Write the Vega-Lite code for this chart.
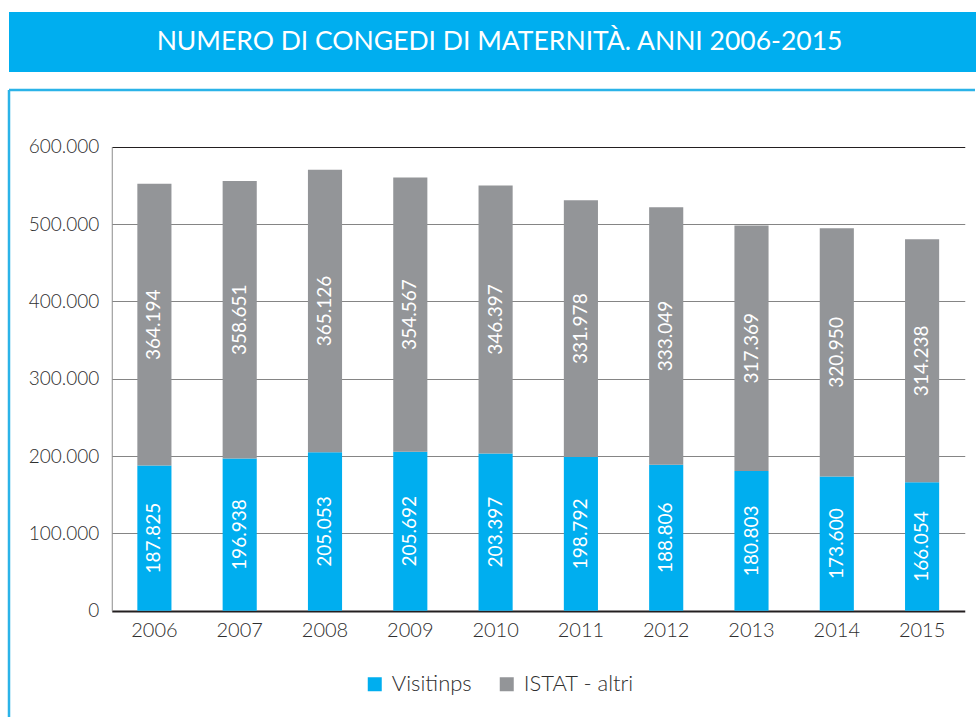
{
  "$schema": "https://vega.github.io/schema/vega-lite/v6.json",
  "background": "white",
  "padding": {"left": 7, "top": 12, "right": 0, "bottom": 0},
  "spacing": 16,
  "config": {
    "font": "Lato",
    "locale": {"number": {"decimal": ",", "thousands": ".", "grouping": [3], "currency": ["€", ""]}},
    "view": {"stroke": null}
  },
  "datasets": {
    "congedi": [
      {"anno": "2006", "serie": "Visitinps", "valore": 187825},
      {"anno": "2007", "serie": "Visitinps", "valore": 196938},
      {"anno": "2008", "serie": "Visitinps", "valore": 205053},
      {"anno": "2009", "serie": "Visitinps", "valore": 205692},
      {"anno": "2010", "serie": "Visitinps", "valore": 203397},
      {"anno": "2011", "serie": "Visitinps", "valore": 198792},
      {"anno": "2012", "serie": "Visitinps", "valore": 188806},
      {"anno": "2013", "serie": "Visitinps", "valore": 180803},
      {"anno": "2014", "serie": "Visitinps", "valore": 173600},
      {"anno": "2015", "serie": "Visitinps", "valore": 166054},
      {"anno": "2006", "serie": "ISTAT - altri", "valore": 364194},
      {"anno": "2007", "serie": "ISTAT - altri", "valore": 358651},
      {"anno": "2008", "serie": "ISTAT - altri", "valore": 365126},
      {"anno": "2009", "serie": "ISTAT - altri", "valore": 354567},
      {"anno": "2010", "serie": "ISTAT - altri", "valore": 346397},
      {"anno": "2011", "serie": "ISTAT - altri", "valore": 331978},
      {"anno": "2012", "serie": "ISTAT - altri", "valore": 333049},
      {"anno": "2013", "serie": "ISTAT - altri", "valore": 317369},
      {"anno": "2014", "serie": "ISTAT - altri", "valore": 320950},
      {"anno": "2015", "serie": "ISTAT - altri", "valore": 314238}
    ]
  },
  "vconcat": [
    {
      "width": 967,
      "height": 60,
      "view": {"fill": "#00aeef", "stroke": null},
      "data": {"values": [{"titolo": "NUMERO DI CONGEDI DI MATERNITÀ. ANNI 2006-2015"}]},
      "mark": {"type": "text", "color": "white", "fontSize": 26.5, "font": "Lato", "dx": 7, "align": "center", "baseline": "middle"},
      "encoding": {"text": {"field": "titolo", "type": "nominal"}}
    },
    {
      "width": 966,
      "height": 627,
      "view": {"stroke": "#2bb3e8", "strokeWidth": 2.5, "strokeDash": [966, 1593, 627, 0]},
      "data": {"name": "congedi"},
      "encoding": {
        "x": {
          "field": "anno",
          "type": "ordinal",
          "scale": {"range": [102.75, 955.75], "paddingInner": 0.6, "paddingOuter": 0.3},
          "axis": {
            "title": null,
            "orient": "bottom",
            "offset": -106.25,
            "domain": false,
            "ticks": false,
            "labelAngle": 0,
            "labelFont": "Lato",
            "labelFontWeight": 300,
            "labelFontSize": 20,
            "labelColor": "#2e2e2e",
            "labelPadding": 10
          }
        }
      },
      "layer": [
        {
          "mark": {"type": "bar"},
          "encoding": {
            "y": {
              "field": "valore",
              "type": "quantitative",
              "stack": "zero",
              "title": null,
              "scale": {"domain": [0, 600000], "range": [520.75, 56.75], "nice": false, "zero": true},
              "axis": {
                "title": null,
                "offset": -102.75,
                "values": [0, 100000, 200000, 300000, 400000, 500000, 600000],
                "format": ",d",
                "domainColor": "#8c8c8c",
                "domainWidth": 1,
                "ticks": false,
                "labelFont": "Lato",
                "labelFontWeight": 300,
                "labelFontSize": 19,
                "labelColor": "#2e2e2e",
                "labelPadding": 13,
                "grid": true,
                "gridColor": {"condition": {"test": "datum.value === 600000 || datum.value === 0", "value": "#231f20"}, "value": "#858585"},
                "gridWidth": {"condition": {"test": "datum.value === 0", "value": 2}, "value": 1.2}
              }
            },
            "color": {
              "field": "serie",
              "type": "nominal",
              "scale": {"domain": ["Visitinps", "ISTAT - altri"], "range": ["#00aeef", "#939598"]},
              "legend": {
                "orient": "none",
                "legendX": 354.75,
                "legendY": 661.25,
                "direction": "horizontal",
                "title": null,
                "symbolType": "square",
                "symbolSize": 196,
                "symbolStrokeWidth": 0,
                "labelFont": "Lato",
                "labelFontWeight": 300,
                "labelFontSize": 22,
                "labelColor": "#2e2e2e",
                "labelOffset": 6,
                "columnPadding": 24,
                "padding": 0
              }
            },
            "order": {"field": "serie", "sort": "descending"}
          }
        },
        {
          "transform": [
            {"stack": "valore", "groupby": ["anno"], "sort": [{"field": "serie", "order": "descending"}], "as": ["v0", "v1"]},
            {"fold": ["v0", "v1"], "as": ["estremo", "pos"]}
          ],
          "mark": {"type": "text", "angle": 270, "color": "white", "font": "Lato", "fontSize": 19, "align": "center", "baseline": "middle"},
          "encoding": {
            "y": {"aggregate": "mean", "field": "pos", "type": "quantitative", "stack": null, "title": null},
            "text": {"field": "valore", "type": "quantitative", "format": ",d"},
            "detail": {"field": "serie", "type": "nominal"}
          }
        }
      ]
    }
  ]
}
